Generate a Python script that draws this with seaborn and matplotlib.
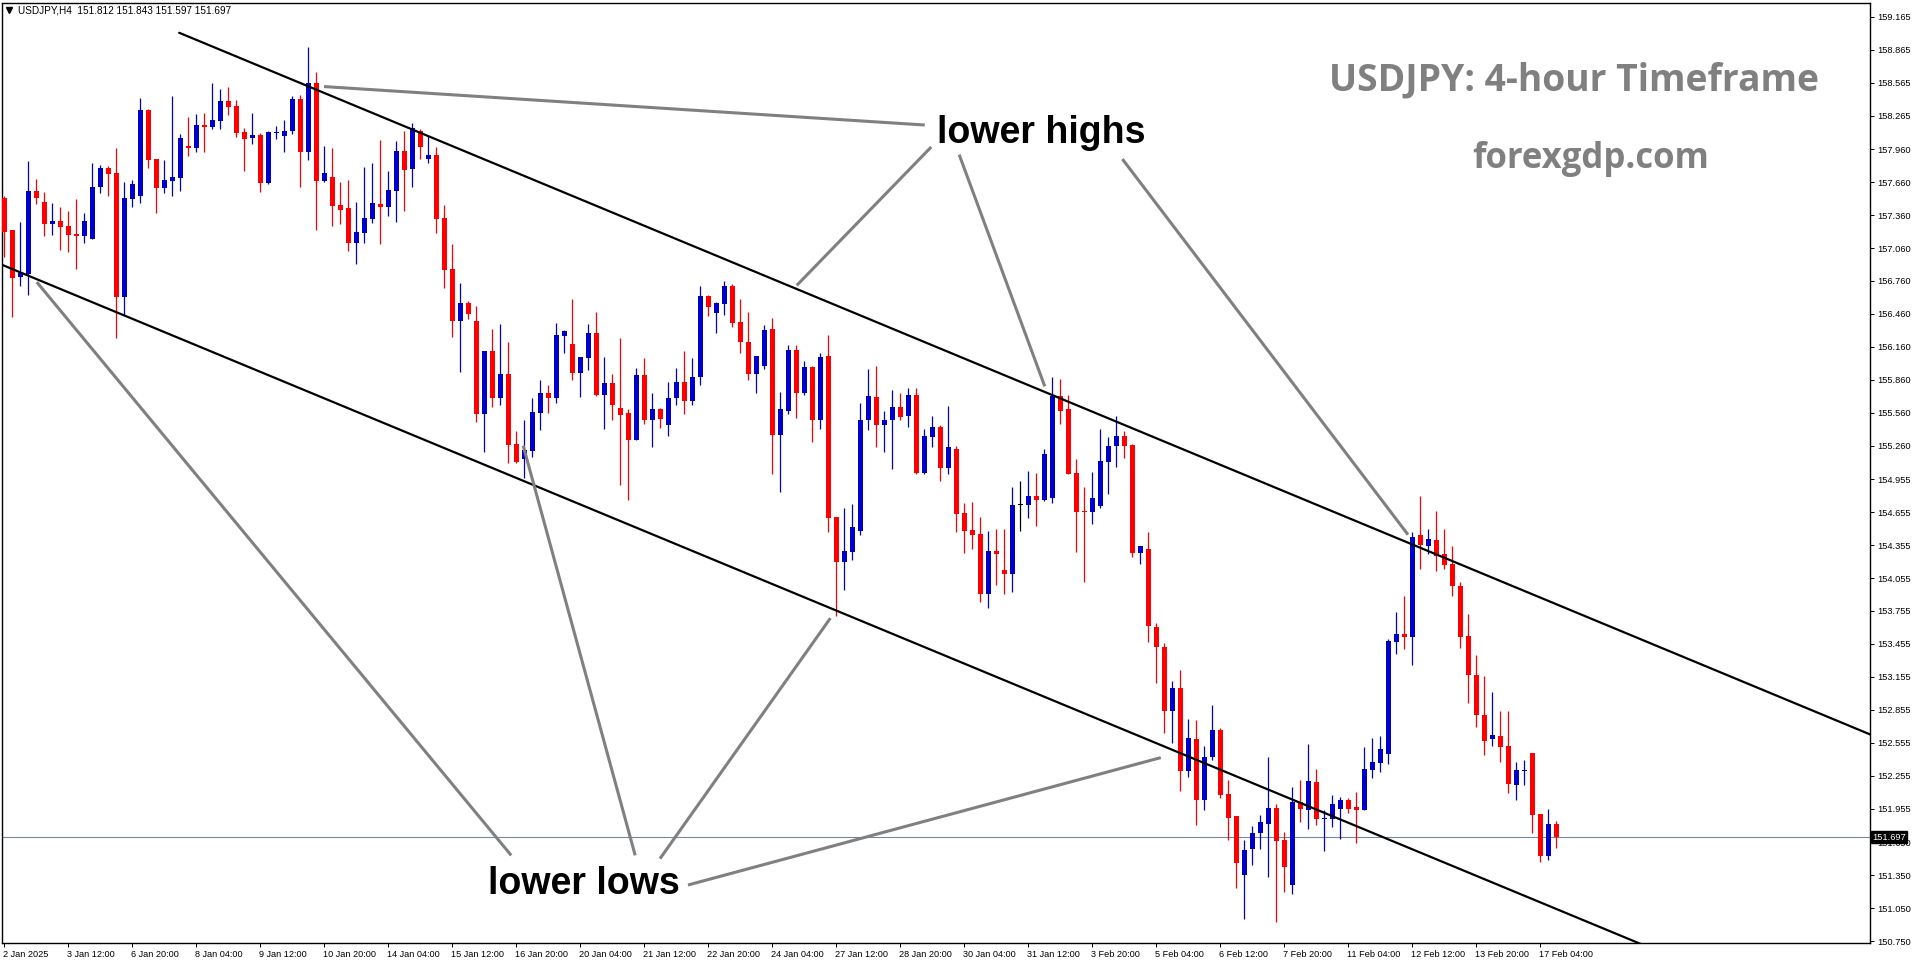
import matplotlib
matplotlib.use("Agg")
import matplotlib.pyplot as plt
import matplotlib.transforms as mtransforms
import seaborn as sns
import pandas as pd
import numpy as np

# USDJPY H4 candles (2 Jan 2025 -> 17 Feb 2025)
opens = [157.52, 157.22, 156.80, 156.82, 157.58, 157.48, 157.28, 157.31, 157.26, 157.19,
         157.17, 157.14, 157.62, 157.79, 157.74, 156.61, 157.51, 157.53, 158.32, 157.87,
         157.61, 157.67, 157.70, 157.99, 157.97, 158.18, 158.16, 158.22, 158.40, 158.35,
         158.12, 158.06, 158.09, 157.65, 158.11, 158.08, 158.13, 158.42, 157.93, 158.56,
         157.67, 157.71, 157.45, 157.42, 157.11, 157.20, 157.32, 157.46, 157.43, 157.58,
         157.94, 157.78, 158.13, 157.87, 157.91, 157.33, 156.87, 156.40, 156.56, 156.40,
         155.55, 156.12, 155.69, 155.91, 155.28, 155.14, 155.21, 155.56, 155.74, 155.69,
         156.26, 156.19, 155.92, 156.06, 156.29, 155.72, 155.83, 155.60, 155.56, 155.31,
         155.90, 155.49, 155.59, 155.45, 155.69, 155.84, 155.67, 155.89, 156.62, 156.47,
         156.55, 156.71, 156.39, 156.20, 155.91, 155.99, 156.32, 155.36, 155.58, 156.13,
         155.74, 155.98, 155.49, 156.08, 154.61, 154.20, 154.29, 154.48, 155.49, 155.70,
         155.45, 155.49, 155.61, 155.53, 155.72, 155.01, 155.34, 155.43, 155.06, 155.23,
         154.65, 154.49, 154.46, 153.91, 154.30, 154.13, 154.09, 154.72, 154.72, 154.80,
         154.77, 154.78, 155.71, 155.59, 155.01, 154.67, 154.66, 154.71, 155.11, 155.26,
         155.35, 155.27, 154.28, 154.32, 153.61, 153.43, 152.84, 153.05, 152.30, 152.59,
         152.03, 152.43, 152.67, 152.09, 151.89, 151.35, 151.59, 151.73, 151.82, 151.96,
         151.67, 151.26, 152.02, 151.94, 152.20, 151.86, 151.86, 151.95, 152.03, 151.97,
         151.94, 152.31, 152.37, 152.45, 153.47, 153.55, 153.52, 154.45, 154.35, 154.40,
         154.27, 154.18, 153.98, 153.53, 153.17, 152.81, 152.59, 152.62, 152.53, 152.17,
         152.30, 152.46, 151.91, 151.52, 151.812]
highs = [157.53, 157.22, 157.30, 157.85, 157.69, 157.57, 157.47, 157.43, 157.40, 157.51,
         157.38, 157.83, 157.82, 157.81, 157.97, 157.66, 157.68, 158.43, 158.33, 157.87,
         157.86, 158.44, 158.10, 158.25, 158.28, 158.29, 158.56, 158.51, 158.53, 158.41,
         158.15, 158.29, 158.11, 158.13, 158.17, 158.23, 158.44, 158.45, 158.89, 158.66,
         157.99, 157.97, 157.66, 157.68, 157.48, 157.80, 157.83, 158.04, 157.76, 158.03,
         158.13, 158.20, 158.14, 158.08, 157.98, 157.45, 157.10, 156.74, 156.58, 156.53,
         156.12, 156.32, 156.37, 156.20, 155.39, 155.49, 155.69, 155.86, 155.81, 156.38,
         156.31, 156.60, 156.07, 156.37, 156.48, 156.07, 155.91, 156.24, 155.59, 155.97,
         156.06, 155.74, 155.60, 155.84, 155.97, 156.12, 156.06, 156.71, 156.63, 156.57,
         156.76, 156.73, 156.60, 156.48, 156.08, 156.36, 156.42, 155.75, 156.18, 156.18,
         156.03, 155.99, 156.10, 156.27, 154.61, 154.69, 154.73, 155.65, 155.96, 155.99,
         155.58, 155.77, 155.74, 155.79, 155.79, 155.41, 155.53, 155.45, 155.62, 155.26,
         154.74, 154.75, 154.61, 154.48, 154.50, 154.50, 154.88, 154.94, 155.03, 155.01,
         155.23, 155.89, 155.87, 155.72, 155.14, 154.88, 155.02, 155.41, 155.34, 155.53,
         155.39, 155.28, 154.35, 154.47, 153.65, 153.46, 153.12, 153.22, 152.77, 152.76,
         152.53, 152.90, 152.69, 152.22, 151.89, 151.67, 151.80, 151.90, 152.43, 152.00,
         151.74, 152.15, 152.22, 152.54, 152.32, 151.94, 152.08, 152.06, 152.05, 152.11,
         152.52, 152.60, 152.62, 153.50, 153.75, 153.89, 154.47, 154.80, 154.50, 154.67,
         154.50, 154.35, 154.02, 153.73, 153.35, 153.16, 153.02, 152.84, 152.84, 152.38,
         152.40, 152.46, 151.91, 151.95, 151.843]
lows = [156.98, 156.43, 156.71, 156.63, 157.46, 157.17, 157.18, 157.04, 157.02, 156.87,
        157.11, 157.14, 157.56, 157.53, 156.24, 156.45, 157.43, 157.47, 157.79, 157.38,
        157.56, 157.53, 157.58, 157.90, 157.93, 157.93, 158.14, 158.14, 158.27, 158.07,
        157.76, 158.01, 157.57, 157.64, 158.05, 157.93, 158.10, 157.62, 157.86, 157.22,
        157.66, 157.26, 157.28, 157.03, 156.91, 157.11, 157.29, 157.10, 157.35, 157.30,
        157.40, 157.62, 157.87, 157.83, 157.20, 156.70, 156.25, 155.93, 156.41, 155.48,
        155.20, 155.61, 155.63, 155.10, 155.10, 154.97, 155.16, 155.40, 155.56, 155.65,
        156.10, 155.86, 155.70, 155.95, 155.71, 155.41, 155.49, 154.90, 154.77, 155.31,
        155.46, 155.25, 155.42, 155.35, 155.63, 155.55, 155.63, 155.81, 156.44, 156.29,
        156.45, 156.34, 156.10, 155.86, 155.74, 155.96, 155.00, 154.84, 155.55, 155.51,
        155.72, 155.29, 155.41, 154.47, 153.71, 153.95, 154.22, 154.45, 155.40, 155.25,
        155.20, 155.05, 155.49, 155.43, 155.00, 155.00, 155.25, 154.94, 155.00, 154.47,
        154.28, 154.32, 153.84, 153.78, 153.99, 153.91, 153.93, 154.48, 154.60, 154.53,
        154.76, 154.74, 155.46, 155.00, 154.29, 154.02, 154.55, 154.69, 154.82, 155.07,
        155.15, 154.25, 154.18, 153.47, 153.10, 152.64, 152.55, 152.12, 152.24, 151.81,
        151.94, 152.40, 152.05, 151.67, 151.23, 150.95, 151.44, 151.59, 151.33, 150.92,
        151.20, 151.18, 151.83, 151.77, 151.81, 151.57, 151.79, 151.68, 151.92, 151.64,
        151.94, 152.23, 152.29, 152.36, 153.36, 153.41, 153.26, 154.14, 154.27, 154.12,
        154.14, 153.89, 153.42, 152.92, 152.70, 152.44, 152.53, 152.38, 152.10, 152.03,
        152.17, 151.73, 151.47, 151.49, 151.597]
closes = [157.21, 156.79, 156.83, 157.58, 157.52, 157.28, 157.31, 157.25, 157.18, 157.17,
          157.31, 157.62, 157.79, 157.73, 156.61, 157.52, 157.64, 158.32, 157.86, 157.61,
          157.68, 157.71, 158.06, 157.97, 158.18, 158.16, 158.23, 158.40, 158.34, 158.11,
          158.05, 158.09, 157.65, 158.12, 158.12, 158.13, 158.42, 157.93, 158.56, 157.67,
          157.74, 157.44, 157.41, 157.11, 157.21, 157.33, 157.47, 157.43, 157.59, 157.94,
          157.77, 158.15, 157.98, 157.91, 157.32, 156.86, 156.40, 156.56, 156.46, 155.55,
          156.12, 155.69, 155.91, 155.27, 155.11, 155.22, 155.57, 155.74, 155.69, 156.27,
          156.30, 155.92, 156.07, 156.29, 155.72, 155.83, 155.63, 155.54, 155.31, 155.90,
          155.49, 155.59, 155.50, 155.69, 155.84, 155.67, 155.89, 156.62, 156.52, 156.56,
          156.71, 156.38, 156.20, 155.91, 156.08, 156.31, 155.36, 155.59, 156.13, 155.74,
          155.98, 155.49, 156.07, 154.60, 154.20, 154.30, 154.52, 155.49, 155.71, 155.45,
          155.49, 155.61, 155.52, 155.72, 155.01, 155.35, 155.43, 155.06, 155.25, 154.64,
          154.48, 154.45, 153.91, 154.30, 154.27, 154.09, 154.72, 154.72, 154.80, 154.77,
          155.18, 155.71, 155.58, 155.00, 154.66, 154.66, 154.78, 155.12, 155.26, 155.35,
          155.26, 154.28, 154.35, 153.62, 153.43, 152.84, 153.05, 152.30, 152.60, 152.03,
          152.43, 152.67, 152.08, 151.87, 151.46, 151.58, 151.73, 151.83, 151.96, 151.66,
          151.42, 152.02, 151.95, 152.21, 151.86, 151.87, 152.00, 152.03, 151.95, 151.94,
          152.32, 152.38, 152.50, 153.48, 153.55, 153.52, 154.43, 154.36, 154.41, 154.26,
          154.17, 153.98, 153.52, 153.17, 152.81, 152.57, 152.63, 152.52, 152.18, 152.31,
          152.31, 151.90, 151.52, 151.82, 151.697]

date_labels = ['2 Jan 2025', '3 Jan 12:00', '6 Jan 20:00', '8 Jan 04:00', '9 Jan 12:00',
               '10 Jan 20:00', '14 Jan 04:00', '15 Jan 12:00', '16 Jan 20:00', '20 Jan 04:00',
               '21 Jan 12:00', '22 Jan 20:00', '24 Jan 04:00', '27 Jan 12:00', '28 Jan 20:00',
               '30 Jan 04:00', '31 Jan 12:00', '3 Feb 20:00', '5 Feb 04:00', '6 Feb 12:00',
               '7 Feb 20:00', '11 Feb 04:00', '12 Feb 12:00', '13 Feb 20:00', '17 Feb 04:00']
price_ticks = [159.165, 158.865, 158.565, 158.265, 157.960, 157.660, 157.360, 157.060,
               156.760, 156.460, 156.160, 155.860, 155.560, 155.260, 154.955, 154.655,
               154.355, 154.055, 153.755, 153.455, 153.155, 152.855, 152.555, 152.255,
               151.955, 151.650, 151.350, 151.050, 150.750]
last_price = 151.697

# trend channel (bar index, price)
upper_channel = ([21.9, 233.3], [159.02, 152.63])
lower_channel = ([-1.0, 210.0], [156.93, 150.56])

# grey pointer lines: (bar0, price0, bar1, price1)
high_pointers = [(40.0, 158.53, 115.1, 158.18),
                 (115.9, 157.98, 99.1, 156.72),
                 (119.4, 157.91, 130.1, 155.80),
                 (139.8, 157.87, 175.5, 154.45)]
low_pointers = [(63.4, 151.53, 4.1, 156.75),
                (78.9, 151.53, 64.9, 155.26),
                (82.0, 151.50, 103.3, 153.69),
                (85.5, 151.26, 144.6, 152.42)]

sns.set_style("white")
plt.rcParams['font.family'] = ['Liberation Sans', 'DejaVu Sans']

df = pd.DataFrame({'open': opens, 'high': highs, 'low': lows, 'close': closes})
df['bar'] = np.arange(len(df))
df['color'] = np.where(df.close > df.open, '#0000CD', np.where(df.close < df.open, '#FF0000', 'black'))

W, H = 1916, 964
fig = plt.figure(figsize=(W / 100, H / 100), dpi=100)
ax = fig.add_axes([2 / W, 1 - 943 / H, 1868 / W, 940 / H])
ax.set_xlim(-0.25, 233.25)
ax.set_ylim(150.732, 159.291)

# candles
ax.vlines(df.bar, df.low, df.high, colors=df.color, lw=0.9, zorder=2)
body_lo = df[['open', 'close']].min(axis=1)
body_h = (df.close - df.open).abs().clip(lower=0.01)
ax.bar(df.bar, body_h, bottom=body_lo, width=0.625, color=df.color, lw=0, zorder=3)

# channel
sns.lineplot(x=upper_channel[0], y=upper_channel[1], ax=ax, color='black', lw=1.6, zorder=4)
sns.lineplot(x=lower_channel[0], y=lower_channel[1], ax=ax, color='black', lw=1.6, zorder=4)

for x0, y0, x1, y1 in high_pointers + low_pointers:
    ax.plot([x0, x1], [y0, y1], color='#808080', lw=2.2, zorder=5, solid_capstyle='butt')

ax.axhline(last_price, color='#778899', lw=0.8, zorder=1)

ax.text(129.6, 158.02, 'lower highs', ha='center', va='baseline', fontsize=27,
        fontweight='bold', color='black', zorder=6)
ax.text(72.5, 151.18, 'lower lows', ha='center', va='baseline', fontsize=27,
        fontweight='bold', color='black', zorder=6)
ax.text(196.2, 158.49, 'USDJPY: 4-hour Timeframe', ha='center', va='baseline', fontsize=26.8,
        fontweight='bold', color='#808080', family='Open Sans')
ax.text(198.3, 157.79, 'forexgdp.com', ha='center', va='baseline', fontsize=25,
        fontweight='bold', color='#808080', family='Open Sans')

ax.text(0.0086, 0.9925, 'USDJPY,H4  %.3f %.3f %.3f %.3f' % (opens[-1], highs[-1], lows[-1], closes[-1]),
        transform=ax.transAxes, fontsize=7.2, va='center', ha='left', color='black')
ax.plot([0.0035], [0.9925], marker='v', ms=4.5, color='black', transform=ax.transAxes, clip_on=False)

# axes / ticks
for s in ax.spines.values():
    s.set_color('black')
    s.set_linewidth(1.0)
ax.yaxis.tick_right()
ax.set_yticks(price_ticks)
ax.set_yticklabels(['%.3f' % p for p in price_ticks])
ax.tick_params(axis='y', right=True, length=3, width=0.7, pad=2, labelsize=6.7, colors='black')
ax.set_xticks(np.arange(0, 8 * len(date_labels), 8))
ax.set_xticklabels(date_labels, ha='left')
ax.tick_params(axis='x', bottom=True, length=3, width=0.7, pad=2, labelsize=6.6, colors='black')
offset = mtransforms.ScaledTranslation(-1 / 100, 0, fig.dpi_scale_trans)
for lbl in ax.get_xticklabels():
    lbl.set_transform(lbl.get_transform() + offset)

trans = mtransforms.blended_transform_factory(ax.transAxes, ax.transData)
ax.text(1.0012, last_price, '%.3f' % last_price, transform=trans, fontsize=6.7, color='white',
        va='center', ha='left', zorder=10,
        bbox=dict(boxstyle='square,pad=0.15', fc='black', ec='black'))

fig.savefig('out.png', dpi=100, facecolor='white')
